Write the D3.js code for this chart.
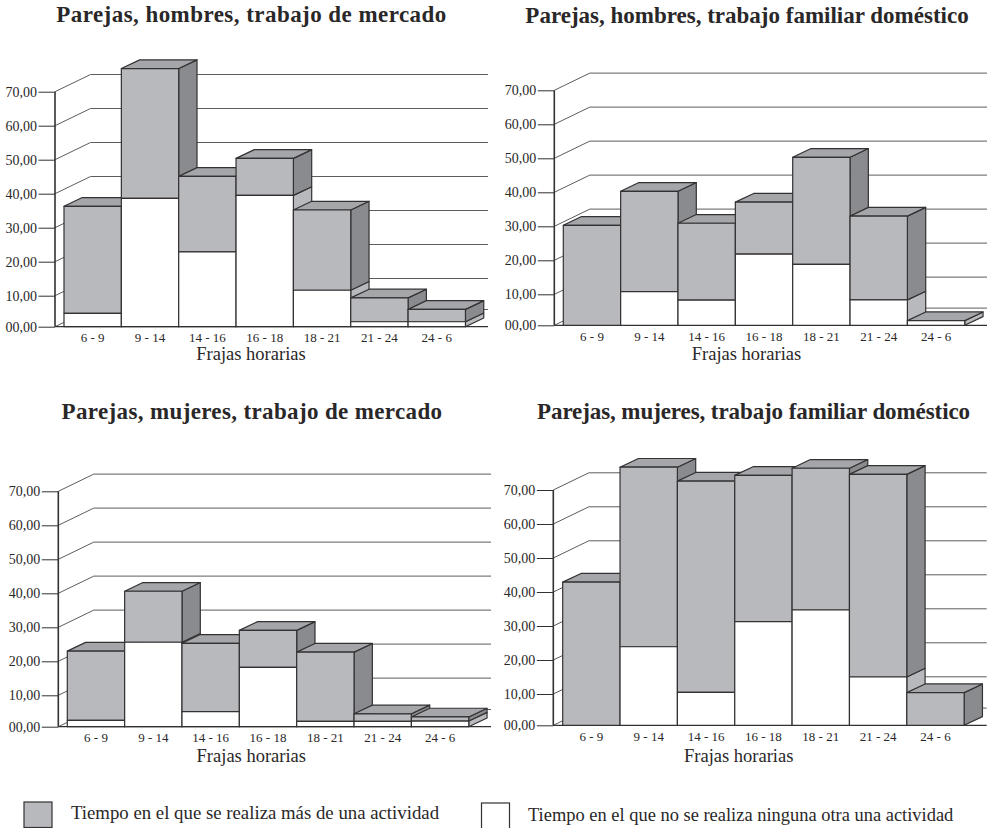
<!DOCTYPE html>
<html lang="es">
<head>
<meta charset="utf-8">
<title>Frajas horarias</title>
<script src="https://cdn.jsdelivr.net/npm/d3@7/dist/d3.min.js"></script>
<style>
  html, body { margin: 0; padding: 0; background: #fff; overflow: hidden; }
  svg { display: block; }
  text { font-family: "Liberation Serif", serif; fill: #2a2728; }
</style>
</head>
<body>
<svg id="chart" width="988" height="828"></svg>
<script>
// Time slots shared by the four panels
const franjas = ["6 - 9", "9 - 14", "14 - 16", "16 - 18", "18 - 21", "21 - 24", "24 - 6"];
const ticksY = [0, 10, 20, 30, 40, 50, 60, 70];
const tituloEjeX = "Frajas horarias";

// Hours share per slot: total bar height and the part with no other activity
const hombresMercadoTotal = [36.3, 76.8, 45.1, 50.4, 35.2, 9.3, 5.6];
const hombresMercadoSola = [4.3, 38.6, 22.9, 39.5, 11.6, 1.6, 1.6];
const hombresFamiliarTotal = [30.3, 40.3, 30.9, 37.1, 50.3, 33.0, 1.5];
const hombresFamiliarSola = [0, 10.8, 8.1, 21.8, 18.8, 8.2, 1.5];
const mujeresMercadoTotal = [23.0, 40.6, 25.3, 29.1, 22.7, 4.1, 3.1];
const mujeresMercadoSola = [2.0, 25.6, 4.8, 18.2, 1.7, 1.7, 1.8];
const mujeresFamiliarTotal = [42.9, 76.7, 72.6, 74.3, 76.4, 74.6, 10.4];
const mujeresFamiliarSola = [0, 23.9, 10.5, 31.3, 34.7, 15.0, 0];

const leyenda = [
  "Tiempo en el que se realiza más de una actividad",
  "Tiempo en el que no se realiza ninguna otra una actividad"
];

const GRIS_FRENTE = "#b8b9bc", GRIS_TAPA = "#a5a6a9", GRIS_LADO = "#8a8b8e";
const TRAZO = "#333133", TRAZO_REJILLA = "#5c5c5e";

// Panel placement on the page
const paneles = [
  { titulo: "Parejas, hombres, trabajo de mercado", tx: 251.5, ty: 22, ls: 0.45, total: hombresMercadoTotal, sola: hombresMercadoSola,
    ejeX: 55, barX: 64, fin: 488, y0: 326.7, y10: 295.7, y70: 91.7, rx: 251, ry: 360 },
  { titulo: "Parejas, hombres, trabajo familiar doméstico", tx: 747, ty: 23, ls: 0, total: hombresFamiliarTotal, sola: hombresFamiliarSola,
    ejeX: 554.3, barX: 563.3, fin: 987, y0: 325.3, y10: 294.3, y70: 90.3, rx: 746.5, ry: 359.5 },
  { titulo: "Parejas, mujeres, trabajo de mercado", tx: 252, ty: 419, ls: 0.36, total: mujeresMercadoTotal, sola: mujeresMercadoSola,
    ejeX: 58.3, barX: 67.3, fin: 491, y0: 726.7, y10: 695.3, y70: 491.3, rx: 251.3, ry: 761.5 },
  { titulo: "Parejas, mujeres, trabajo familiar doméstico", tx: 753.5, ty: 419, ls: -0.09, total: mujeresFamiliarTotal, sola: mujeresFamiliarSola,
    ejeX: 553.3, barX: 562.7, fin: 986.7, y0: 725.3, y10: 694, y70: 490, rx: 738.7, ry: 761.5 }
];

const PASO = 57.35;          // bar width
const BARRA_DX = 18.3, BARRA_DY = -8.7;   // bar depth
const PARED_DX = 35.5, PARED_DY = -17.2;  // back wall offset

const svg = d3.select("#chart");
const poly = pts => pts.map(p => p.join(",")).join(" ");

paneles.forEach(p => {
  const g = svg.append("g");
  const x = d3.scaleBand().domain(franjas).range([p.barX, p.barX + PASO * franjas.length]);
  // The printed axis has a shorter first interval, so the scale is piecewise
  const y = d3.scaleLinear().domain([0, 10, 70]).range([p.y0, p.y10, p.y70]);

  g.append("text").attr("x", p.tx).attr("y", p.ty).attr("text-anchor", "middle")
    .attr("font-size", 23).attr("font-weight", "bold").attr("letter-spacing", p.ls).text(p.titulo);

  // Gridlines: slanted from the axis to the wall, then running along the wall
  g.append("g").selectAll("polyline").data(ticksY).join("polyline")
    .attr("fill", "none").attr("stroke", TRAZO_REJILLA).attr("stroke-width", 1)
    .attr("points", d => poly([[p.ejeX, y(d)], [p.ejeX + PARED_DX, y(d) + PARED_DY], [p.fin, y(d) + PARED_DY]]));

  // Baseline
  g.append("line").attr("x1", p.ejeX).attr("x2", p.fin).attr("y1", p.y0).attr("y2", p.y0)
    .attr("stroke", TRAZO).attr("stroke-width", 1.2);

  // Bars are painted left to right so each one overlaps its neighbour's side face
  franjas.forEach((f, i) => {
    const xa = x(f), xb = xa + x.bandwidth();
    const total = p.total[i], sola = p.sola[i];
    const yT = y(total), yS = y(sola), yB = y(0);
    const b = g.append("g").attr("stroke", TRAZO).attr("stroke-width", 1.2).attr("stroke-linejoin", "round");
    const d = (px, py) => [px + BARRA_DX, py + BARRA_DY];

    // Side faces
    if (sola > 0) b.append("polygon").attr("fill", GRIS_FRENTE)
      .attr("points", poly([[xb, yS], d(xb, yS), d(xb, yB), [xb, yB]]));
    if (total > sola) b.append("polygon").attr("fill", GRIS_LADO)
      .attr("points", poly([[xb, yT], d(xb, yT), d(xb, yS), [xb, yS]]));
    // Top face
    b.append("polygon").attr("fill", GRIS_TAPA)
      .attr("points", poly([[xa, yT], d(xa, yT), d(xb, yT), [xb, yT]]));
    // Front faces
    if (total > sola) b.append("rect").attr("fill", GRIS_FRENTE)
      .attr("x", xa).attr("y", yT).attr("width", xb - xa).attr("height", yS - yT);
    if (sola > 0) b.append("rect").attr("fill", "#fff")
      .attr("x", xa).attr("y", yS).attr("width", xb - xa).attr("height", yB - yS);
  });

  // Value axis
  const ejeY = g.append("g").attr("transform", `translate(${p.ejeX},0)`)
    .call(d3.axisLeft(y).tickValues(ticksY).tickSize(16.5).tickPadding(1.5)
      .tickFormat(d => d3.format("02d")(d) + ",00"));
  ejeY.select(".domain").attr("stroke", TRAZO).attr("stroke-width", 1.6).attr("d", `M0,${p.y70}V${p.y0}`);
  ejeY.selectAll(".tick line").attr("stroke", TRAZO).attr("stroke-width", 1);
  ejeY.selectAll("text").attr("font-family", "Liberation Serif").attr("font-size", 14);

  // Slot axis
  const ejeX = g.append("g").attr("transform", `translate(0,${p.y0})`)
    .call(d3.axisBottom(x).tickSize(0).tickPadding(6));
  ejeX.select(".domain").remove();
  ejeX.selectAll("text").attr("font-family", "Liberation Serif").attr("font-size", 13);

  g.append("text").attr("x", p.rx).attr("y", p.ry).attr("text-anchor", "middle")
    .attr("font-size", 18.5).text(tituloEjeX);
});

// Legend, running off the bottom edge of the page
const leyendaG = svg.append("g");
leyendaG.append("rect").attr("x", 24).attr("y", 802).attr("width", 28).attr("height", 25.5)
  .attr("fill", GRIS_FRENTE).attr("stroke", TRAZO).attr("stroke-width", 1.2);
leyendaG.append("text").attr("x", 71).attr("y", 819).attr("font-size", 18.8).text(leyenda[0]);
leyendaG.append("rect").attr("x", 481.5).attr("y", 803).attr("width", 28).attr("height", 30)
  .attr("fill", "#fff").attr("stroke", TRAZO).attr("stroke-width", 1.2);
leyendaG.append("text").attr("x", 528).attr("y", 820.5).attr("font-size", 18.45).text(leyenda[1]);
</script>
</body>
</html>
